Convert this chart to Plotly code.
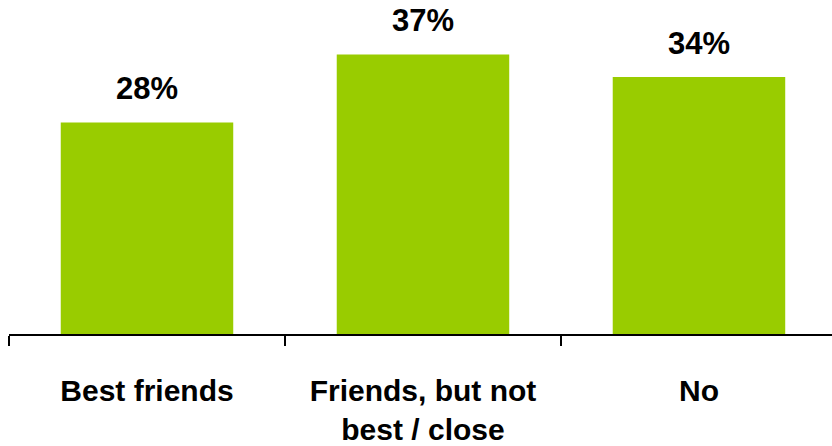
import plotly.graph_objects as go

categories = ["Best friends", "Friends, but not<br>best / close", "No"]
values = [28, 37, 34]
labels = ["28%", "37%", "34%"]

BAR_COLOR = "#99CC00"
FONT = "Liberation Sans, Arial, sans-serif"

fig = go.Figure()
fig.add_trace(go.Bar(
    x=categories, y=values, marker=dict(color=BAR_COLOR, line=dict(width=0)),
    width=0.625, hoverinfo="skip",
))

for c, v, t in zip(categories, values, labels):
    fig.add_annotation(x=c, y=v, text=t, showarrow=False, yanchor="bottom",
                       yshift=14, font=dict(family=FONT, size=31, color="black", weight="bold"))

fig.update_layout(
    width=832, height=446,
    margin=dict(l=9, r=0, t=0, b=103),
    paper_bgcolor="white", plot_bgcolor="white",
    showlegend=False,
    xaxis=dict(
        type="category", range=[-0.5, 2.482],
        showline=True, linecolor="black", linewidth=2,
        ticks="outside", ticklen=10, tickwidth=2, tickcolor="black",
        tickson="boundaries", showgrid=False, ticklabelstandoff=29,
        tickfont=dict(family=FONT, size=30, color="black", weight="bold"),
    ),
    yaxis=dict(range=[0, 44.2], visible=False, showgrid=False, zeroline=False),
)

fig.write_html("out.html", config={"displayModeBar": False},
               post_script="document.body.style.margin='0';")
